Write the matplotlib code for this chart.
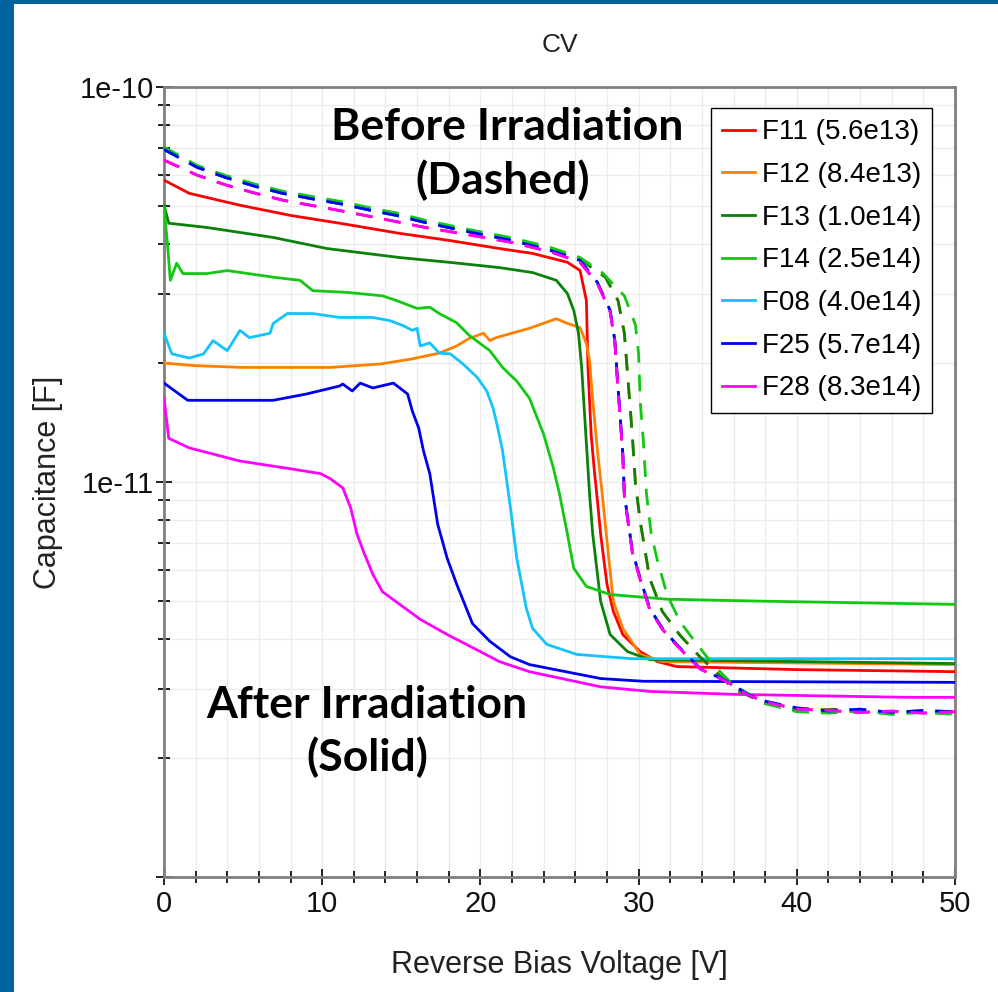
import numpy as np
import matplotlib
matplotlib.use("Agg")
import matplotlib.pyplot as plt
from matplotlib.ticker import MultipleLocator, FixedLocator, LogLocator, FuncFormatter, NullFormatter
from matplotlib.patches import Rectangle

plt.rcParams['font.family'] = ['Liberation Sans', 'DejaVu Sans']

labels = ["F11 (5.6e13)", "F12 (8.4e13)", "F13 (1.0e14)", "F14 (2.5e14)",
          "F08 (4.0e14)", "F25 (5.7e14)", "F28 (8.3e14)"]
colors = ['#ff0000', '#ff8000', '#0a820a', '#12c812', '#12c3ff', '#0000ee', '#ff00ff']

# after irradiation (solid)
f11_v = [0, 1.6, 4.8, 8.0, 11.1, 14.9, 18.0, 21.2, 23.3, 25.5, 26.3, 26.7, 26.8, 27.0,
         27.2, 27.4, 27.6, 28.0, 28.4, 29.0, 30.1, 31.2, 32.4, 40, 50]
f11_c = [5.81e-11, 5.38e-11, 5.02e-11, 4.73e-11, 4.52e-11, 4.26e-11, 4.09e-11, 3.90e-11,
         3.79e-11, 3.60e-11, 3.43e-11, 2.88e-11, 1.95e-11, 1.32e-11, 1.07e-11, 8.95e-12,
         7.38e-12, 5.51e-12, 4.71e-12, 4.11e-12, 3.72e-12, 3.51e-12, 3.41e-12, 3.35e-12, 3.31e-12]

f12_v = [0, 2, 5, 8, 10.5, 13.7, 15.7, 17.4, 18.5, 19.3, 20.2, 20.6, 21.0, 23.1, 24.8,
         25.5, 26.3, 26.7, 26.9, 27.1, 27.4, 27.7, 28.0, 28.4, 29.0, 30.1, 31.5, 50]
f12_c = [2.00e-11, 1.97e-11, 1.95e-11, 1.95e-11, 1.95e-11, 1.99e-11, 2.05e-11, 2.12e-11,
         2.21e-11, 2.31e-11, 2.38e-11, 2.28e-11, 2.32e-11, 2.45e-11, 2.59e-11, 2.52e-11,
         2.46e-11, 2.24e-11, 2.03e-11, 1.61e-11, 1.20e-11, 9.33e-12, 7.10e-12, 4.99e-12,
         4.26e-12, 3.66e-12, 3.51e-12, 3.45e-12]

f13_v = [0, 0.3, 2.7, 6.9, 10.3, 14.9, 18.0, 21.2, 23.3, 24.8, 25.5, 25.9, 26.2, 26.4,
         26.6, 26.9, 27.1, 27.6, 28.2, 29.3, 30.7, 50]
f13_c = [5.02e-11, 4.52e-11, 4.41e-11, 4.16e-11, 3.90e-11, 3.70e-11, 3.60e-11, 3.49e-11,
         3.39e-11, 3.24e-11, 3.00e-11, 2.72e-11, 2.38e-11, 1.95e-11, 1.45e-11, 9.33e-12,
         7.38e-12, 4.99e-12, 4.11e-12, 3.72e-12, 3.55e-12, 3.47e-12]

f14_v = [0, 0.2, 0.4, 0.8, 1.2, 2.7, 4.0, 6.9, 8.6, 9.4, 11.6, 13.8, 14.7, 16.0, 16.8,
         17.4, 18.5, 19.3, 20.6, 21.4, 22.3, 23.1, 24.0, 24.6, 25.0, 25.5, 25.9, 26.7,
         28.2, 31.8, 38.1, 50]
f14_c = [4.96e-11, 4.09e-11, 3.24e-11, 3.58e-11, 3.37e-11, 3.37e-11, 3.43e-11, 3.30e-11,
         3.24e-11, 3.05e-11, 3.02e-11, 2.96e-11, 2.88e-11, 2.75e-11, 2.77e-11, 2.67e-11,
         2.53e-11, 2.35e-11, 2.15e-11, 1.95e-11, 1.80e-11, 1.63e-11, 1.32e-11, 1.09e-11,
         9.33e-12, 7.38e-12, 6.05e-12, 5.44e-12, 5.19e-12, 5.05e-12, 4.99e-12, 4.90e-12]

f08_v = [0, 0.5, 1.6, 2.5, 3.1, 4.0, 4.8, 5.4, 6.7, 6.9, 7.8, 9.4, 11.1, 13.2, 14.3, 15.1,
         15.7, 16.0, 16.2, 16.8, 17.4, 18.1, 18.9, 19.8, 20.4, 20.8, 21.1, 21.4, 21.9, 22.3,
         22.9, 23.3, 24.2, 26.1, 29.6, 50]
f08_c = [2.38e-11, 2.11e-11, 2.06e-11, 2.11e-11, 2.28e-11, 2.15e-11, 2.42e-11, 2.32e-11,
         2.38e-11, 2.52e-11, 2.67e-11, 2.67e-11, 2.61e-11, 2.61e-11, 2.56e-11, 2.49e-11,
         2.42e-11, 2.45e-11, 2.21e-11, 2.25e-11, 2.12e-11, 2.11e-11, 1.99e-11, 1.84e-11,
         1.70e-11, 1.54e-11, 1.37e-11, 1.20e-11, 8.60e-12, 6.41e-12, 4.79e-12, 4.26e-12,
         3.88e-12, 3.66e-12, 3.57e-12, 3.57e-12]

f25_v = [0, 1.5, 4, 6.9, 9.0, 11.1, 11.3, 11.9, 12.4, 13.2, 14.5, 15.4, 15.7, 16.1, 16.4,
         16.8, 17.3, 17.9, 18.5, 19.5, 20.6, 21.9, 23.1, 27.6, 30.3, 50]
f25_c = [1.78e-11, 1.61e-11, 1.61e-11, 1.61e-11, 1.67e-11, 1.75e-11, 1.77e-11, 1.70e-11,
         1.78e-11, 1.73e-11, 1.78e-11, 1.67e-11, 1.51e-11, 1.37e-11, 1.20e-11, 1.05e-11,
         7.82e-12, 6.41e-12, 5.51e-12, 4.38e-12, 3.95e-12, 3.61e-12, 3.45e-12, 3.18e-12,
         3.13e-12, 3.11e-12]

f28_v = [0, 0.3, 1.6, 4.8, 8.0, 9.9, 10.5, 11.3, 11.8, 12.2, 12.6, 13.2, 13.8, 14.9, 16.2,
         17.9, 20.0, 21.2, 23.1, 27.6, 30.7, 36.0, 47, 50]
f28_c = [1.63e-11, 1.29e-11, 1.22e-11, 1.13e-11, 1.08e-11, 1.05e-11, 1.02e-11, 9.66e-12,
         8.60e-12, 7.38e-12, 6.68e-12, 5.84e-12, 5.28e-12, 4.90e-12, 4.49e-12, 4.11e-12,
         3.72e-12, 3.51e-12, 3.31e-12, 3.03e-12, 2.95e-12, 2.90e-12, 2.85e-12, 2.85e-12]

# before irradiation (dashed): three groups of nearly identical curves
pre_a_v = [0, 2.1, 3.9, 5.8, 7.5, 9.5, 11.3, 13.3, 14.7, 16.5, 19.5, 22.0, 24.4, 26.3,
           27.4, 28.2, 28.5, 28.7, 28.8, 29.0, 29.1, 29.6, 30.1, 30.7, 31.5, 32.4, 33.9,
           35.6, 36.9, 38.1, 40, 42, 44, 46, 48, 50]
pre_a_hi = [6.95e-11, 6.26e-11, 5.90e-11, 5.60e-11, 5.38e-11, 5.20e-11, 5.05e-11, 4.85e-11,
            4.73e-11, 4.54e-11, 4.28e-11, 4.09e-11, 3.86e-11, 3.64e-11, 3.20e-11, 2.72e-11,
            2.28e-11, 1.73e-11, 1.54e-11, 1.18e-11, 9.30e-12, 6.70e-12, 5.70e-12, 4.79e-12,
            4.26e-12, 3.88e-12, 3.37e-12, 3.13e-12, 2.90e-12, 2.78e-12, 2.68e-12, 2.63e-12,
            2.66e-12, 2.61e-12, 2.64e-12, 2.62e-12]
pre_a_lo = [6.53e-11, 5.98e-11, 5.65e-11, 5.38e-11, 5.17e-11, 5.00e-11, 4.85e-11, 4.68e-11,
            4.56e-11, 4.41e-11, 4.21e-11, 4.04e-11, 3.83e-11, 3.60e-11, 3.18e-11, 2.70e-11,
            2.26e-11, 1.71e-11, 1.52e-11, 1.17e-11, 9.20e-12, 6.65e-12, 5.66e-12, 4.76e-12,
            4.24e-12, 3.86e-12, 3.36e-12, 3.12e-12, 2.89e-12, 2.77e-12, 2.66e-12, 2.64e-12,
            2.61e-12, 2.63e-12, 2.60e-12, 2.62e-12]

pre_b_v = [0, 2.1, 3.9, 5.8, 7.5, 9.5, 11.3, 13.3, 14.7, 16.5, 19.5, 22.0, 24.4, 26.3,
           27.9, 28.7, 29.1, 29.3, 29.6, 29.8, 30.1, 30.7, 31.5, 32.6, 33.9, 36.0, 38.0,
           40, 43, 46, 48, 50]
pre_b_c = [6.95e-11, 6.26e-11, 5.90e-11, 5.60e-11, 5.38e-11, 5.20e-11, 5.05e-11, 4.85e-11,
           4.73e-11, 4.54e-11, 4.28e-11, 4.09e-11, 3.88e-11, 3.66e-11, 3.30e-11, 2.88e-11,
           2.38e-11, 1.88e-11, 1.32e-11, 9.90e-12, 7.96e-12, 5.70e-12, 4.70e-12, 4.10e-12,
           3.60e-12, 3.00e-12, 2.75e-12, 2.64e-12, 2.66e-12, 2.60e-12, 2.63e-12, 2.61e-12]

pre_c_v = [0, 2.1, 3.9, 5.8, 7.5, 9.5, 11.3, 13.3, 14.7, 16.5, 19.5, 22.0, 24.4, 26.3,
           27.7, 29.1, 29.8, 30.0, 30.1, 30.3, 30.5, 30.8, 31.2, 31.8, 32.6, 33.7, 34.7,
           36.0, 38.0, 40, 42, 44, 46, 48, 50]
pre_c_c = [7.05e-11, 6.33e-11, 5.97e-11, 5.67e-11, 5.45e-11, 5.27e-11, 5.12e-11, 4.92e-11,
           4.80e-11, 4.60e-11, 4.34e-11, 4.15e-11, 3.93e-11, 3.70e-11, 3.39e-11, 2.96e-11,
           2.50e-11, 2.11e-11, 1.61e-11, 1.27e-11, 9.30e-12, 7.38e-12, 6.30e-12, 5.19e-12,
           4.44e-12, 3.88e-12, 3.45e-12, 3.06e-12, 2.75e-12, 2.62e-12, 2.60e-12, 2.63e-12,
           2.58e-12, 2.61e-12, 2.58e-12]

solid = [(f11_v, f11_c), (f12_v, f12_c), (f13_v, f13_c), (f14_v, f14_c),
         (f08_v, f08_c), (f25_v, f25_c), (f28_v, f28_c)]
dashed = [(pre_a_v, pre_a_lo), (pre_b_v, pre_b_c), (pre_b_v, pre_b_c), (pre_c_v, pre_c_c),
          (pre_a_v, pre_a_hi), (pre_a_v, pre_a_hi), (pre_a_v, pre_a_lo)]

fig = plt.figure(figsize=(9.98, 9.92), dpi=100, facecolor='#00639b')
fig.patches.append(Rectangle((14 / 998, 0), 1, 1 - 4 / 992, transform=fig.transFigure,
                             facecolor='white', edgecolor='none', zorder=-10))
ax = fig.add_axes([164 / 998, 1 - 877 / 992, 791 / 998, 790 / 992])

for (v, c), col, lab in zip(solid, colors, labels):
    ax.plot(v, c, color=col, lw=2.0, label=lab, zorder=3)
for (v, c), col in zip(dashed, colors):
    ax.plot(v, c, color=col, lw=2.0, linestyle=(0, (6, 4.3)), zorder=4)

ax.set_yscale('log')
ax.set_xlim(0, 50)
ax.set_ylim(1e-12, 1e-10)

ax.xaxis.set_major_locator(MultipleLocator(10))
ax.xaxis.set_minor_locator(MultipleLocator(2))
ax.yaxis.set_major_locator(FixedLocator([1e-12, 1e-11, 1e-10]))
ax.yaxis.set_minor_locator(LogLocator(base=10, subs=np.arange(2, 10)))
ax.yaxis.set_minor_formatter(NullFormatter())
ax.yaxis.set_major_formatter(FuncFormatter(
    lambda y, pos: '' if y < 5e-12 else '1e%d' % round(np.log10(y))))

ax.grid(True, which='both', color='#ececec', lw=1.0, zorder=0)
ax.set_axisbelow(True)
for s in ax.spines.values():
    s.set_color('#808080')
    s.set_linewidth(2.0)

ax.tick_params(which='both', direction='inout', colors='#111111', width=1.3,
               labelsize=21)
ax.tick_params(which='major', length=11)
ax.tick_params(which='minor', length=8)
ax.tick_params(axis='x', pad=4)
ax.tick_params(axis='y', pad=2)

ax.set_xlabel('Reverse Bias Voltage [V]', fontsize=22, color='#222222')
ax.xaxis.set_label_coords(0.5, -0.111)
ax.xaxis.label.set_va('center')
ax.set_ylabel('Capacitance [F]', fontsize=22, color='#222222')
ax.yaxis.set_label_coords(-0.147, 0.5)
ax.yaxis.label.set_va('center')

fig.text(559.5 / 998, 1 - 45 / 992, 'CV', fontsize=19, ha='center', va='center',
         color='#222222')

# annotations, one line per text, placed by pixel position inside the axes
notes = [("Before Irradiation", 507, 140), ("(Dashed)", 503, 194),
         ("After Irradiation", 367, 718), ("(Solid)", 367, 771)]
for txt, px, py in notes:
    ax.text((px - 164) / 791, (877 - py) / 790, txt, transform=ax.transAxes,
            ha='center', va='baseline', fontsize=32, fontweight='bold',
            family='Lato', zorder=6)

leg = ax.legend(loc='upper right', bbox_to_anchor=(0.971, 0.973), borderaxespad=0,
                fontsize=20, frameon=True, fancybox=False, framealpha=1,
                edgecolor='black', handlelength=1.17, handletextpad=0.25,
                labelspacing=0.6, borderpad=0.4)
leg.get_frame().set_linewidth(1.0)
leg.set_zorder(7)

fig.savefig('out.png', dpi=100, facecolor=fig.get_facecolor())
